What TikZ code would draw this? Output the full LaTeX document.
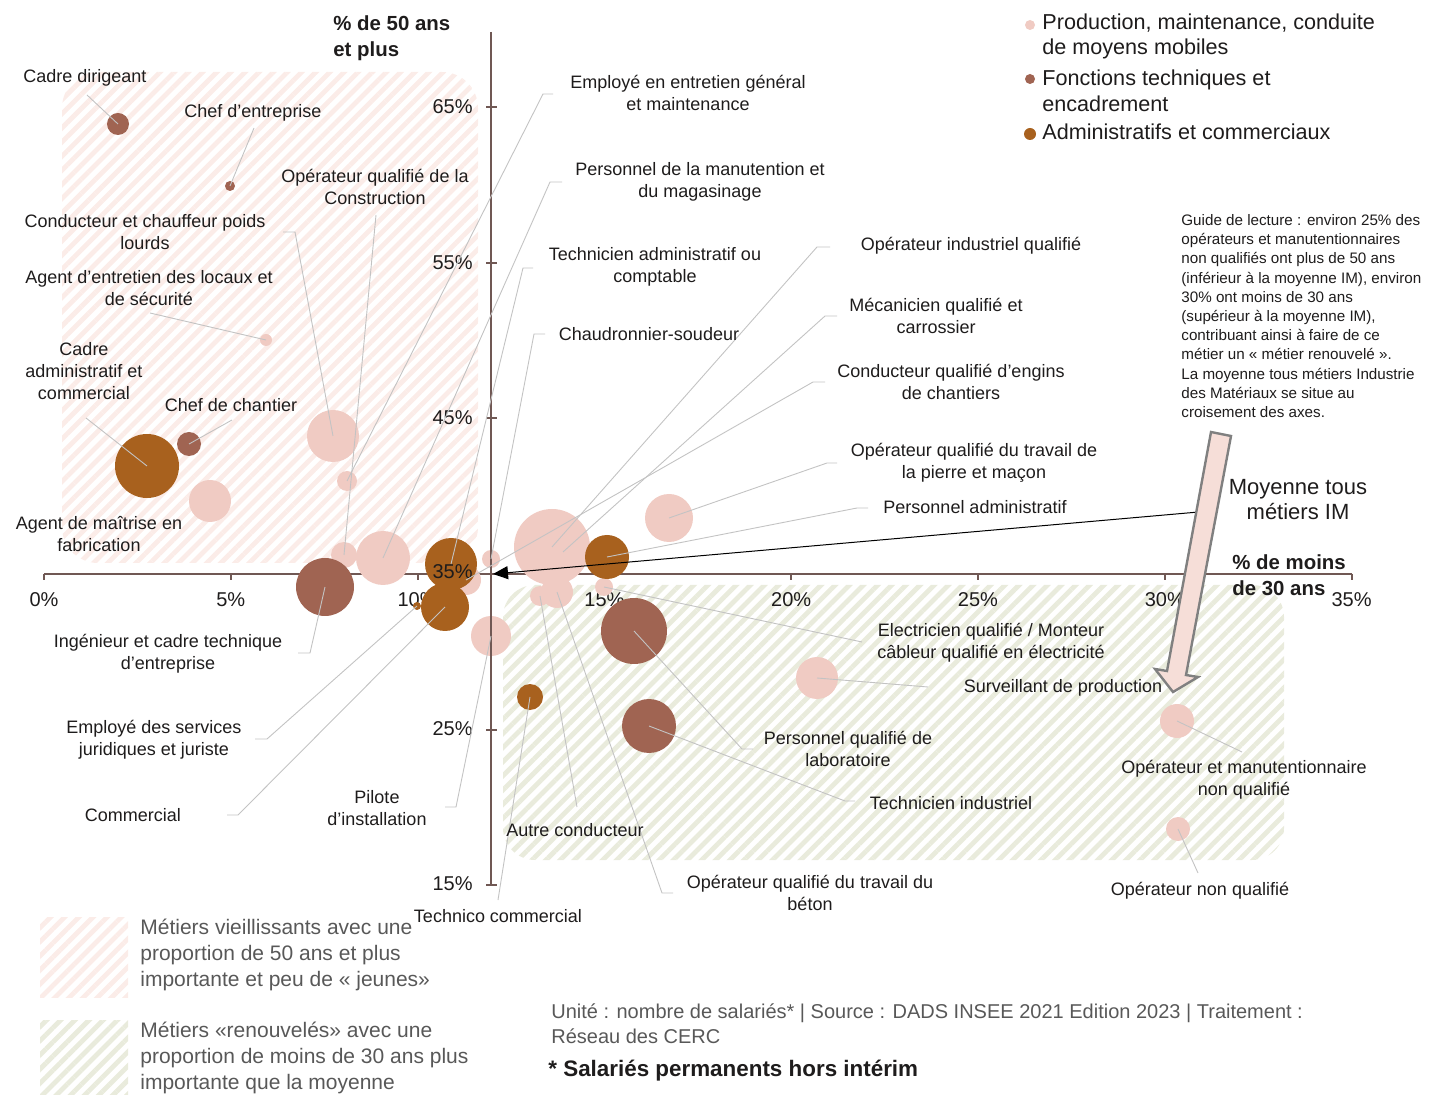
\documentclass[tikz,border=0pt]{standalone}
\usepackage{fontspec}
\setmainfont{Liberation Sans}
\usetikzlibrary{arrows.meta,patterns.meta}

\definecolor{pinkb}{RGB}{240,203,195}
\definecolor{brownb}{RGB}{160,100,82}
\definecolor{orangeb}{RGB}{168,97,30}
\definecolor{agedstripe}{RGB}{251,236,232}
\definecolor{renewstripe}{RGB}{233,235,220}
\definecolor{axisc}{RGB}{112,88,84}
\definecolor{leadgray}{RGB}{195,195,195}
\definecolor{txt}{RGB}{30,28,28}
\definecolor{softtxt}{RGB}{88,88,88}
\definecolor{arrowfill}{RGB}{246,222,216}

\tikzset{
  bub/.style={circle, inner sep=0pt, draw=none},
  leader/.style={draw=leadgray, line width=0.45pt},
  lbl/.style={align=center, inner sep=0pt, text=txt, font=\fontsize{9}{11}\selectfont},
  axisline/.style={draw=axisc, line width=1pt},
  ticklbl/.style={inner sep=0pt, text=txt, font=\fontsize{10}{12}\selectfont},
  aged/.style={pattern={Lines[angle=45,distance=5pt,line width=2.4pt]}, pattern color=agedstripe},
  renew/.style={pattern={Lines[angle=45,distance=5pt,line width=2.4pt]}, pattern color=renewstripe},
}

\begin{document}
\begin{tikzpicture}[x=0.5pt, y=-0.5pt]
  \useasboundingbox (0,0) rectangle (1434,1095);

  % zones
  \fill[aged, rounded corners=18pt] (62,72) rectangle (478,563);
  \fill[renew, rounded corners=16pt] (503,585) rectangle (1284,860);

  % horizontal axis
  \draw[axisline] (44,574) -- (1352,574);
  \foreach \p in {0,5,...,35} {
    \draw[axisline] ({44+37.36*\p},574) -- ++(0,6);
    \node[ticklbl] (xt\p) at ({44+37.36*\p},600) {\p\%};
  }

  % bubbles
  \foreach \nm/\x/\y/\rad/\col in {
      agentent/266/340/6/pinkb, agentmai/210/501/21/pinkb,
      condpl/333/436/26/pinkb, empent/347/481/10/pinkb,
      opconstr/344/555/13/pinkb, persmanu/383/558/27/pinkb,
      condeng/466/580/15/pinkb, chaudr/491/559/9/pinkb,
      pilote/491/636/20/pinkb, meca/563/552/12/pinkb,
      opind/552/547/38/pinkb, pierre/669/518/24/pinkb,
      elec/604/587/9/pinkb, autrecond/540/596/10/pinkb,
      beton/557/592/16/pinkb, surv/817/678/21/pinkb,
      opmanu/1177/721/17/pinkb, opnq/1178/829/12/pinkb,
      cadredir/118/124/11/brownb, chefent/230/186/5/brownb,
      chefchan/189/444/12/brownb, ingcadre/325/587/29/brownb,
      labo/634/631/33/brownb, techind/649/726/27/brownb,
      cadreadm/147/466/32/orangeb, techadm/451/564/26/orangeb,
      commerc/445/607/24/orangeb, juriste/417/606/4/orangeb,
      persadm/607/557/22/orangeb, technico/530/697/13/orangeb} {
    \node[bub, fill=\col, minimum size=\rad pt] (\nm) at (\x,\y) {};
  }

  % vertical axis
  \draw[axisline] (491,32) -- (491,885);
  \foreach \p in {65,55,45,35,25,15} {
    \draw[axisline] (486,{574-15.55*(\p-35)}) -- ++(11,0);
  }
  \foreach \p/\y in {65/107,55/263,45/418,35/572,25/729,15/884} {
    \node[ticklbl, anchor=east] (yt\p) at (473,\y) {\p\%};
  }

  % leaders
  \foreach \nm/\x/\y/\dx in {
      cadredir/87/95/0, chefent/254/128/0, opconstr/376/215/0,
      condpl/283/232/12, agentent/150/313/0, cadreadm/86/418/0,
      chefchan/232/420/0, empent/553/94/-10, persmanu/562/182/-12,
      techadm/533/268/-10, chaudr/545/334/-11, opind/830/247/-13,
      meca/837/316/-12, condeng/825/382/-12, pierre/837/463/-10,
      persadm/868/508/-11, ingcadre/298/653/12, juriste/255/739/12,
      commerc/227/815/11, pilote/445/807/11, technico/498/900/0,
      autrecond/577/807/0, beton/673/893/-11, labo/753/749/-11,
      techind/855/801/-10, elec/862/642/0, surv/928/687/0,
      opmanu/1242/752/0, opnq/1198/873/0} {
    \coordinate (k\nm) at (\x,\y);
    \draw[leader] (k\nm) -- ++(\dx,0) -- (\nm.center);
  }

  % labels
  \foreach \nm/\x/\y/\txt in {
      cadredir/85/78/{Cadre dirigeant},
      chefent/253/113/{Chef d’entreprise},
      opconstr/375/187/{Opérateur qualifié de la\\Construction},
      condpl/145/232/{Conducteur et chauffeur poids\\lourds},
      agentent/149/288/{Agent d’entretien des locaux et\\de sécurité},
      cadreadm/84/371/{Cadre\\administratif et\\commercial},
      chefchan/231/405/{Chef de chantier},
      agentmai/99/534/{Agent de maîtrise en\\fabrication},
      empent/688/93/{Employé en entretien général\\et maintenance},
      persmanu/700/182/{Personnel de la manutention et\\du magasinage},
      techadm/655/267/{Technicien administratif ou\\comptable},
      chaudr/649/334/{Chaudronnier-soudeur},
      opind/971/246/{Opérateur industriel qualifié},
      meca/936/316/{Mécanicien qualifié et\\carrossier},
      condeng/951/382/{Conducteur qualifié d’engins\\de chantiers},
      pierre/974/463/{Opérateur qualifié du travail de\\la pierre et maçon},
      persadm/975/507/{Personnel administratif},
      ingcadre/168/654/{Ingénieur et cadre technique\\d’entreprise},
      juriste/154/740/{Employé des services\\juridiques et juriste},
      commerc/133/815/{Commercial},
      pilote/377/808/{Pilote\\d’installation},
      technico/498/916/{Technico commercial},
      autrecond/575/830/{Autre conducteur},
      beton/810/893/{Opérateur qualifié du travail du\\béton},
      labo/848/749/{Personnel qualifié de\\laboratoire},
      techind/951/803/{Technicien industriel},
      elec/991/643/{Electricien qualifié / Monteur\\câbleur qualifié en électricité},
      surv/1063/688/{Surveillant de production},
      opmanu/1244/780/{Opérateur et manutentionnaire\\non qualifié},
      opnq/1200/891/{Opérateur non qualifié}} {
    \node[lbl] (l\nm) at (\x,\y) {\txt};
  }

  % axis titles
  \node[anchor=west, align=left, inner sep=0pt, text=txt, font=\bfseries\fontsize{10.2}{13}\selectfont]
    (ytitle) at (333,38) {\% de 50 ans\\et plus};
  \node[anchor=west, align=left, inner sep=0pt, text=txt, font=\bfseries\fontsize{10.2}{13}\selectfont]
    (xtitle) at (1232,575) {\% de moins\\de 30 ans};

  % average marker
  \coordinate (origin) at (493,574);
  \coordinate (moyfoot) at (1210,511);
  \node[align=center, inner sep=0pt, text=txt, font=\fontsize{11}{12.5}\selectfont]
    (moy) at (1298,500) {Moyenne tous\\métiers IM};
  \draw[-{Triangle[length=7.5pt,width=6.5pt]}, line width=0.5pt] (moyfoot) -- (origin);

  % reading guide arrow
  \filldraw[fill=arrowfill, draw=gray, line width=1.2pt, line join=miter]
    (1211,432) -- (1167,671) -- (1155,669) -- (1173,692) -- (1198,677) -- (1186,675) -- (1231,436) -- cycle;
  \node[anchor=west, align=left, inner sep=0pt, text=txt, font=\fontsize{7.6}{9.6}\selectfont]
    (guide) at (1181,316) {Guide de lecture : environ 25\% des\\opérateurs et manutentionnaires\\non qualifiés ont plus de 50 ans\\(inférieur à la moyenne IM), environ\\30\% ont moins de 30 ans\\(supérieur à la moyenne IM),\\contribuant ainsi à faire de ce\\métier un « métier renouvelé ».\\La moyenne tous métiers Industrie\\des Matériaux se situe au\\croisement des axes.};

  % family legend
  \foreach \nm/\y/\rad/\col in {fprod/25/5/pinkb, ftech/79/5/brownb, fadm/134/6/orangeb} {
    \node[bub, fill=\col, minimum size=\rad pt] (\nm) at (1030,\y) {};
  }
  \node[anchor=west, align=left, inner sep=0pt, text=txt, font=\fontsize{10.8}{12.8}\selectfont]
    (tprod) at (1042,36.5) {Production, maintenance, conduite\\de moyens mobiles};
  \node[anchor=west, align=left, inner sep=0pt, text=txt, font=\fontsize{10.8}{12.8}\selectfont]
    (ttech) at (1042,91) {Fonctions techniques et\\encadrement};
  \node[anchor=west, align=left, inner sep=0pt, text=txt, font=\fontsize{10.8}{12.8}\selectfont]
    (tadm) at (1042,132) {Administratifs et commerciaux};

  % zone legend
  \fill[aged] (40,917) rectangle (128,997);
  \fill[renew] (40,1020) rectangle (128,1095);
  \node[anchor=west, align=left, inner sep=0pt, text=softtxt, font=\fontsize{10.5}{12.8}\selectfont]
    (zaged) at (140,955) {Métiers vieillissants avec une\\proportion de 50 ans et plus\\importante et peu de « jeunes»};
  \node[anchor=west, align=left, inner sep=0pt, text=softtxt, font=\fontsize{10.5}{12.8}\selectfont]
    (zrenew) at (140,1058) {Métiers «renouvelés» avec une\\proportion de moins de 30 ans plus\\importante que la moyenne};

  % source
  \node[anchor=west, align=left, inner sep=0pt, text=softtxt, font=\fontsize{10}{12.5}\selectfont]
    (source) at (551,1023.5) {Unité : nombre de salariés* | Source : DADS INSEE 2021 Edition 2023 | Traitement :\\Réseau des CERC};
  \node[anchor=west, inner sep=0pt, text=txt, font=\bfseries\fontsize{11.2}{13}\selectfont]
    (note) at (548,1071) {* Salariés permanents hors intérim};
\end{tikzpicture}
\end{document}
